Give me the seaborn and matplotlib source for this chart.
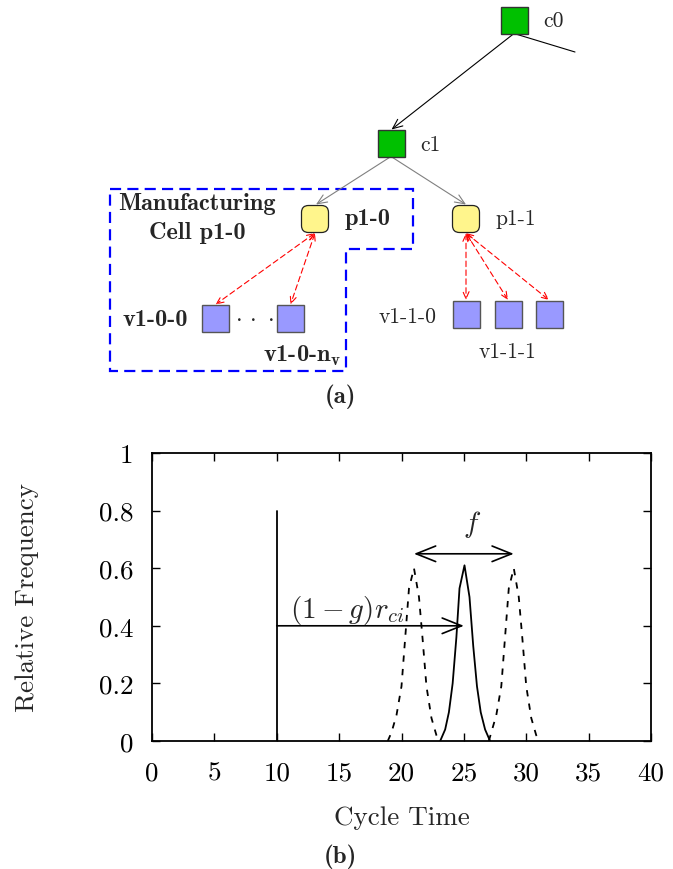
import matplotlib
matplotlib.use("Agg")
import matplotlib.pyplot as plt
import seaborn as sns
import pandas as pd
from matplotlib.patches import Rectangle, FancyBboxPatch, Polygon, FancyArrowPatch

# ---- cycle-time distributions (panel b) ----
nominal_x = [23.1, 23.5, 23.8, 24.1, 24.4, 24.65, 25.05, 25.45, 25.75, 26.05, 26.35, 26.7, 27.1]
nominal_y = [0.0, 0.04, 0.10, 0.20, 0.36, 0.53, 0.61, 0.50, 0.33, 0.19, 0.10, 0.04, 0.0]
early_x = [18.9, 19.2, 19.6, 20.0, 20.3, 20.6, 21.0, 21.4, 21.7, 22.0, 22.4, 22.8, 23.0]
early_y = [0.0, 0.03, 0.09, 0.19, 0.36, 0.53, 0.60, 0.50, 0.35, 0.19, 0.08, 0.02, 0.0]
late_x = [27.0, 27.2, 27.6, 28.0, 28.3, 28.6, 29.0, 29.4, 29.7, 30.0, 30.4, 30.8, 31.1]
late_y = [0.0, 0.03, 0.09, 0.19, 0.36, 0.53, 0.60, 0.50, 0.35, 0.19, 0.08, 0.02, 0.0]

release_time = 10
release_height = 0.8
mean_cycle = 25
rci_level = 0.4
f_low, f_high, f_level = 21, 29, 0.65

x_ticks = [0, 5, 10, 15, 20, 25, 30, 35, 40]
y_ticks = [0, 0.2, 0.4, 0.6, 0.8, 1.0]
y_tick_labels = ["0", "0.2", "0.4", "0.6", "0.8", "1"]

# ---- hierarchy (panel a) ----
node_names = ["c0", "c1", "p1-0", "p1-1", "v1-0-0", "v1-0-nv", "v1-1-0", "v1-1-1", "v1-1-2"]
node_kind = ["cell", "cell", "proc", "proc", "vm", "vm", "vm", "vm", "vm"]

sns.set_theme(style="ticks")
plt.rcParams.update({
    "font.family": ["cmr10"],
    "mathtext.fontset": "cm",
    "axes.unicode_minus": False,
    "axes.formatter.use_mathtext": True,
})

W, H = 673, 870
fig = plt.figure(figsize=(W / 100, H / 100), dpi=100)

# diagram canvas in figure pixel units
tree = fig.add_axes([0, 0, 1, 1], zorder=0)
tree.set_xlim(0, W)
tree.set_ylim(H, 0)
tree.axis("off")

pos = {
    "c0": (514, 21), "c1": (391, 144),
    "p1-0": (315, 220), "p1-1": (466, 220),
    "v1-0-0": (215.5, 319.5), "v1-0-nv": (290.5, 319.5),
    "v1-1-0": (466, 315), "v1-1-1": (508, 315), "v1-1-2": (549, 315),
}
S = 27
colors = {"cell": "#00C000", "proc": "#FFF58C", "vm": "#9999FF"}
for name, kind in zip(node_names, node_kind):
    cx, cy = pos[name]
    if kind == "proc":
        r = 7
        tree.add_patch(FancyBboxPatch((cx - S / 2 + r, cy - S / 2 + r), S - 2 * r, S - 2 * r,
                                      boxstyle=f"round,pad={r}", fc=colors[kind], ec="#222222",
                                      lw=0.9, zorder=3))
    else:
        tree.add_patch(Rectangle((cx - S / 2, cy - S / 2), S, S, fc=colors[kind],
                                 ec="#333333" if kind == "cell" else "#555555", lw=1.0, zorder=3))

def link(a, b, color, ls="-", style="->", lw=0.8, hl=6, hw=2.5):
    tree.add_patch(FancyArrowPatch(a, b, arrowstyle=f"{style},head_length={hl},head_width={hw}",
                                   color=color, lw=lw, linestyle=ls, shrinkA=0, shrinkB=0,
                                   mutation_scale=1, zorder=2))

# cell-level links
tree.plot([514, 575], [34.5, 53], color="black", lw=0.8)
link((514, 34.5), (391.5, 130.5), "black", hl=7, hw=3)
link((391, 157.5), (316, 205.5), "#808080", hl=7, hw=3)
link((391, 157.5), (466, 205.5), "#808080", hl=7, hw=3)

# process to VM links
red_ls = (0, (5, 3))
for tgt in ["v1-0-0", "v1-0-nv"]:
    tx, ty = pos[tgt]
    link((315, 234), (tx, ty - 14), "red", ls=red_ls, style="<->", hl=5, hw=2.2)
for tgt in ["v1-1-0", "v1-1-1", "v1-1-2"]:
    tx, ty = pos[tgt]
    link((466, 234), (tx, ty - 14), "red", ls=red_ls, style="<->", hl=5, hw=2.2)

# manufacturing cell boundary
tree.add_patch(Polygon([(110, 190), (413, 190), (413, 250), (346, 250), (346, 372), (110, 372)],
                       closed=True, fill=False, ec="#0000FF", lw=1.6, ls=(0, (5, 2.8)), zorder=1))

reg = dict(fontsize=15.5, family="cmr10", va="center")
bold = dict(fontsize=17.5, family="cmb10", va="center")
tree.text(543, 21, "c0", ha="left", **reg)
tree.text(420, 145, "c1", ha="left", **reg)
tree.text(495, 219, "p1-1", ha="left", **reg)
tree.text(437, 317, "v1-1-0", ha="right", **reg)
tree.text(507, 352, "v1-1-1", ha="center", **reg)
tree.text(345, 219, "p1-0", ha="left", **bold)
tree.text(188, 320, "v1-0-0", ha="right", **bold)
tree.text(302, 356, r"v1-0-n$_\mathbf{v}$", ha="center", **bold)
tree.text(197, 204, "Manufacturing", ha="center", **bold)
tree.text(197, 233, "Cell p1-0", ha="center", **bold)
tree.text(255, 318, r"$\cdot\,\cdot\,\cdot$", ha="center", fontsize=17, va="center")
tree.text(340, 397, "(a)", ha="center", fontsize=18, family="cmb10", va="center")
tree.text(340, 857, "(b)", ha="center", fontsize=18, family="cmb10", va="center")

# ---- distribution chart ----
left, right, top, bottom = 152, 651, 454, 742
ax = fig.add_axes([left / W, 1 - bottom / H, (right - left) / W, (bottom - top) / H], zorder=1)
ax.patch.set_alpha(0)

df_nom = pd.DataFrame({"t": nominal_x, "freq": nominal_y})
df_early = pd.DataFrame({"t": early_x, "freq": early_y})
df_late = pd.DataFrame({"t": late_x, "freq": late_y})
sns.lineplot(data=df_nom, x="t", y="freq", ax=ax, color="black", lw=1.3, estimator=None, sort=False)
for d in (df_early, df_late):
    sns.lineplot(data=d, x="t", y="freq", ax=ax, color="black", lw=1.3, estimator=None,
                 sort=False, linestyle=(0, (3.5, 4)))
ax.plot([release_time, release_time], [0, release_height], color="black", lw=1.3)

arrow = dict(arrowstyle="->,head_length=0.7,head_width=0.28", lw=1.2, color="black",
             shrinkA=0, shrinkB=0, mutation_scale=20)
ax.annotate("", xy=(mean_cycle, rci_level), xytext=(release_time, rci_level), arrowprops=arrow)
arrow2 = dict(arrow, arrowstyle="<->,head_length=0.7,head_width=0.28")
ax.annotate("", xy=(f_high, f_level), xytext=(f_low, f_level), arrowprops=arrow2)
ax.text(15.6, 0.455, r"$(1-g)r_{ci}$", fontsize=21, ha="center", va="center")
ax.text(25.65, 0.755, r"$f$", fontsize=21, ha="center", va="center")

ax.set_xlim(0, 40)
ax.set_ylim(0, 1)
ax.set_xticks(x_ticks)
ax.set_xticklabels([str(t) for t in x_ticks])
ax.set_yticks(y_ticks)
ax.set_yticklabels(y_tick_labels)
ax.tick_params(direction="in", length=6, width=1, top=True, right=True, labelsize=19.5,
               colors="black")
ax.tick_params(axis="x", pad=14)
ax.tick_params(axis="y", pad=13.5)
for sp in ax.spines.values():
    sp.set_linewidth(1.3)
    sp.set_color("black")
ax.set_xlabel("Cycle Time", fontsize=19.5)
ax.set_ylabel("Relative Frequency", fontsize=19.5)
ax.xaxis.set_label_coords(0.5, -0.222)
ax.yaxis.set_label_coords(-0.226, 0.5)

fig.savefig("out.png", dpi=100)
